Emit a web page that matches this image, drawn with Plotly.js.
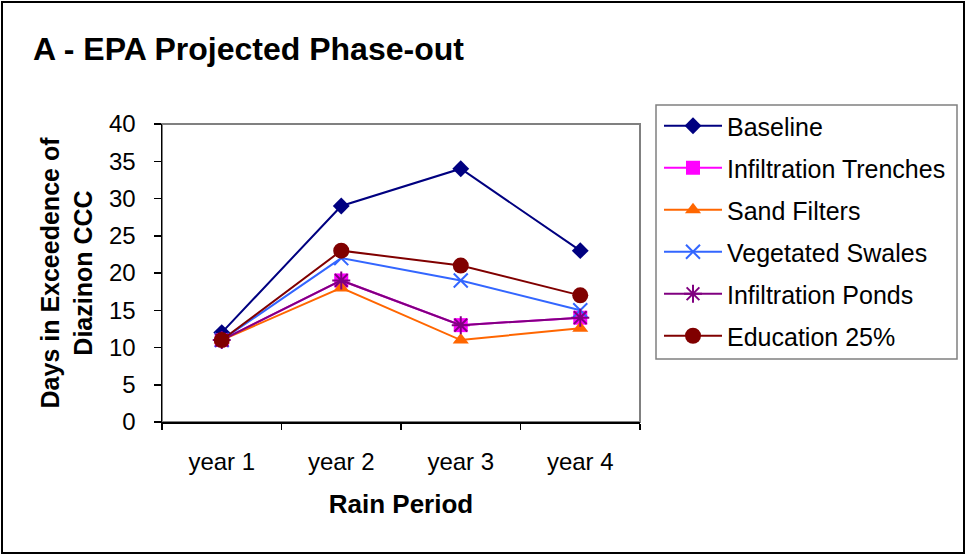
<!DOCTYPE html>
<html>
<head>
<meta charset="utf-8">
<script src="https://cdn.plot.ly/plotly-3.0.1.min.js"></script>
<style>
  html, body { margin: 0; padding: 0; background: #fff; }
  #chart { width: 966px; height: 555px; }
</style>
</head>
<body>
<div id="chart"></div>
<script>
// ---- Data ----
const categories = ["year 1", "year 2", "year 3", "year 4"];
const seriesNames = ["Baseline", "Infiltration Trenches", "Sand Filters", "Vegetated Swales", "Infiltration Ponds", "Education 25%"];
const baseline = [12, 29, 34, 23];
const infiltrationTrenches = [11, 19, 13, 14];
const sandFilters = [11, 18, 11, 12.6];
const vegetatedSwales = [11, 22, 19, 15];
const infiltrationPonds = [11, 19, 13, 14];
const education25 = [11, 23, 21, 17];
const yTicks = [0, 5, 10, 15, 20, 25, 30, 35, 40];

// ---- Styling ----
const FONT = "Liberation Sans, Arial, sans-serif";
const W = 966, H = 555;
const PL = 162, PR = 640, PT = 124, PB = 422;
const px = v => (v - PL) / (PR - PL);
const py = v => (PB - v) / (PB - PT);

const styles = [
  {color: "#000080", symbol: "diamond", size: 13},
  {color: "#FF00FF", symbol: "square", size: 14},
  {color: "#FF6600", symbol: "triangle-up", size: 14},
  {color: "#3366FF", symbol: "x-thin-open", size: 14},
  {color: "#800080", symbol: "asterisk-open", size: 15},
  {color: "#800000", symbol: "circle", size: 16}
];
const values = [baseline, infiltrationTrenches, sandFilters, vegetatedSwales, infiltrationPonds, education25];

const traces = values.map((v, i) => ({
  type: "scatter",
  mode: "lines+markers",
  name: seriesNames[i],
  x: categories,
  y: v,
  legendgroup: "g" + i,
  line: {color: styles[i].color, width: 2},
  marker: {
    color: styles[i].color,
    symbol: styles[i].symbol,
    size: styles[i].size,
    line: {color: styles[i].color, width: (styles[i].symbol.indexOf("open") >= 0) ? 2 : 0}
  },
  cliponaxis: false
}));

const layout = {
  width: W, height: H,
  margin: {l: PL, r: W - PR, t: PT, b: H - PB, pad: 0},
  paper_bgcolor: "#ffffff",
  plot_bgcolor: "#ffffff",
  font: {family: FONT, color: "#000000", size: 24},
  showlegend: true,
  title: {
    text: "<b>A - EPA Projected Phase-out</b>",
    font: {family: FONT, size: 32, color: "#000"},
    xref: "container", yref: "container",
    x: 33 / W, xanchor: "left",
    y: 1 - 49 / H, yanchor: "middle"
  },
  xaxis: {
    type: "category",
    range: [-0.5, 3.5],
    tickson: "boundaries",
    ticks: "outside", ticklen: 6, tickwidth: 1.5, tickcolor: "#000",
    showline: true, linecolor: "#000", linewidth: 1.5,
    showgrid: false, zeroline: false,
    tickfont: {family: FONT, size: 24, color: "#000"},
    ticklabelstandoff: 18,
    title: {text: "<b>Rain Period</b>", font: {family: FONT, size: 26, color: "#000"}, standoff: 20}
  },
  yaxis: {
    range: [0, 40],
    tickvals: yTicks,
    ticks: "outside", ticklen: 7, tickwidth: 1.5, tickcolor: "#000",
    showline: true, linecolor: "#000", linewidth: 1.5,
    showgrid: false, zeroline: false,
    tickfont: {family: FONT, size: 24, color: "#000"},
    ticklabelstandoff: 13,
    title: {text: "<b>Days in Exceedence of<br>Diazinon CCC</b>", font: {family: FONT, size: 25, color: "#000"}, standoff: 9}
  },
  legend: {
    xref: "container", yref: "container",
    x: 659 / W, xanchor: "left",
    y: 1 - 103 / H, yanchor: "top",
    bgcolor: "rgba(0,0,0,0)",
    borderwidth: 0,
    font: {family: FONT, size: 25, color: "#000"},
    traceorder: "grouped",
    tracegroupgap: 6.5,
    itemwidth: 58
  },
  shapes: [
    // outer chart border
    {type: "rect", xref: "paper", yref: "paper", layer: "below",
     x0: px(2), x1: px(964), y0: py(553), y1: py(2),
     line: {color: "#000", width: 2}, fillcolor: "rgba(0,0,0,0)"},
    // plot area frame (gray)
    {type: "rect", xref: "paper", yref: "paper", layer: "below",
     x0: 0, x1: 1, y0: 0, y1: 1,
     line: {color: "#808080", width: 2}, fillcolor: "rgba(0,0,0,0)"},
    // legend box
    {type: "rect", xref: "paper", yref: "paper", layer: "below",
     x0: px(656), x1: px(957), y0: py(359), y1: py(105),
     line: {color: "#808080", width: 1.5}, fillcolor: "rgba(0,0,0,0)"}
  ]
};

Plotly.newPlot("chart", traces, layout, {displayModeBar: false, staticPlot: true});
</script>
</body>
</html>
